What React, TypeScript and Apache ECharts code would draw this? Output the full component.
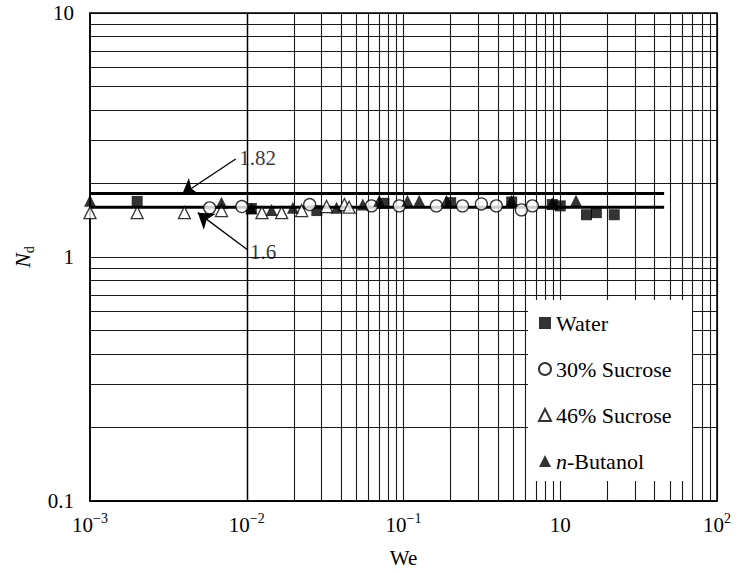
import React, { useEffect, useRef } from "react";
import * as echarts from "echarts";

// ---- data (We, Nd) ----
const WATER: [number, number][] = [
  [0.002, 1.69], [0.0107, 1.58], [0.028, 1.55], [0.075, 1.66], [0.2, 1.67],
  [0.49, 1.68], [0.89, 1.64], [1.0, 1.62], [1.47, 1.49], [1.7, 1.52], [2.21, 1.49],
];
const SUCROSE30: [number, number][] = [
  [0.0058, 1.59], [0.0093, 1.61], [0.0252, 1.64], [0.0625, 1.62], [0.094, 1.62],
  [0.162, 1.62], [0.238, 1.62], [0.314, 1.65], [0.391, 1.62], [0.565, 1.56], [0.664, 1.62],
];
const SUCROSE46: [number, number][] = [
  [0.001, 1.52], [0.002, 1.52], [0.004, 1.52], [0.0069, 1.55], [0.0125, 1.52],
  [0.0167, 1.52], [0.0224, 1.55], [0.0323, 1.61], [0.042, 1.64], [0.045, 1.6],
];
const BUTANOL: [number, number][] = [
  [0.001, 1.7], [0.0069, 1.67], [0.0107, 1.58], [0.0144, 1.56], [0.0197, 1.59],
  [0.0374, 1.59], [0.055, 1.64], [0.07, 1.7], [0.106, 1.7], [0.126, 1.7],
  [0.188, 1.7], [0.488, 1.7], [0.889, 1.66], [1.26, 1.7],
];
const FIT_VALUES = [1.82, 1.6];
const FIT_X_RANGE = [0.001, 4.6];
const SERIES_NAMES = ["Water", "30% Sucrose", "46% Sucrose", "n-Butanol"];
// x tick labels as printed on the figure, one per decade
const X_TICK_LABELS = ["{b|10}{s|−3}", "{b|10}{s|−2}", "{b|10}{s|−1}", "{b|10}", "{b|10}{s|2}"];
const Y_TICK_LABELS = ["0.1", "1", "10"];
// annotations: [textX, textY, tipX, tipY, startX, startY, label]
const ANNOTATIONS: [number, number, number, number, number, number, string][] = [
  [0.0089, 2.55, 0.00386, 1.8, 0.0085, 2.52, "1.82"],
  [0.0104, 1.05, 0.00487, 1.52, 0.0101, 1.07, "1.6"],
];

const FONT = "'Liberation Serif', 'DejaVu Serif', serif";

function gridValues(fromExp: number, toExp: number): number[] {
  const out: number[] = [];
  for (let e = fromExp; e < toExp; e++) {
    for (let k = 1; k <= 9; k++) out.push(k * Math.pow(10, e));
  }
  out.push(Math.pow(10, toExp));
  return out;
}

export default function App() {
  const ref = useRef<HTMLDivElement>(null);
  useEffect(() => {
    if (!ref.current) return;
    const chart = echarts.init(ref.current, null, { renderer: "svg" });
    const xGrid = gridValues(-3, 1);
    const yGrid = gridValues(-1, 1);
    const richLabel = {
      b: { fontSize: 21, fontFamily: FONT, color: "#000", lineHeight: 28 },
      s: { fontSize: 14, fontFamily: FONT, color: "#000", verticalAlign: "top", lineHeight: 28 },
    };
    const option: any = {
      animation: false,
      backgroundColor: "#fff",
      grid: { left: 90, right: 23, top: 13, bottom: 66, show: true, borderColor: "#000", borderWidth: 1.5 },
      xAxis: {
        type: "log",
        logBase: 10,
        min: 0.001,
        max: 10,
        name: "We",
        nameLocation: "middle",
        nameGap: 46,
        nameTextStyle: { fontSize: 21, fontFamily: FONT, color: "#000" },
        axisLine: { show: true, lineStyle: { color: "#000", width: 1.5 } },
        axisTick: { show: false },
        splitLine: { show: false },
        axisLabel: {
          margin: 10,
          formatter: (v: number) => X_TICK_LABELS[Math.round(Math.log10(v)) + 3] ?? "",
          rich: richLabel,
        },
      },
      yAxis: {
        type: "log",
        logBase: 10,
        min: 0.1,
        max: 10,
        name: "{i|N}{d|d}",
        nameLocation: "middle",
        nameRotate: 90,
        nameGap: 50,
        nameTextStyle: {
          rich: {
            i: { fontSize: 22, fontFamily: FONT, fontStyle: "italic", color: "#000", lineHeight: 28 },
            d: { fontSize: 14, fontFamily: FONT, color: "#000", verticalAlign: "bottom", lineHeight: 28 },
          },
        },
        axisLine: { show: true, lineStyle: { color: "#000", width: 1.5 } },
        axisTick: { show: false },
        splitLine: { show: false },
        axisLabel: {
          margin: 16,
          fontSize: 21,
          fontFamily: FONT,
          color: "#000",
          formatter: (v: number) => Y_TICK_LABELS[Math.round(Math.log10(v)) + 1] ?? "",
        },
      },
      legend: {
        data: SERIES_NAMES,
        orient: "vertical",
        left: 538,
        top: 312,
        padding: 0,
        itemWidth: 12,
        itemHeight: 12,
        itemGap: 24,
        z: 20,
        formatter: (name: string) => (name === "n-Butanol" ? "{it|n}-Butanol" : name),
        textStyle: {
          fontSize: 22,
          fontFamily: FONT,
          color: "#000",
          lineHeight: 22,
          rich: { it: { fontSize: 22, fontFamily: FONT, fontStyle: "italic", color: "#000", lineHeight: 22 } },
        },
      },
      graphic: [
        { type: "rect", z: 8, silent: true, shape: { x: 528, y: 300, width: 164, height: 181 }, style: { fill: "#fff" } },
      ],
      series: [
        {
          name: "grid",
          type: "line",
          data: [],
          z: 1,
          silent: true,
          markLine: {
            z: 1,
            silent: true,
            symbol: "none",
            label: { show: false },
            lineStyle: { color: "#000", width: 1.1, type: "solid", opacity: 0.9 },
            emphasis: { disabled: true },
            data: [
              ...xGrid.map((v) => ({ xAxis: v })),
              ...yGrid.map((v) => ({ yAxis: v })),
            ],
          },
        },
        ...FIT_VALUES.map((fv) => ({
          name: "fit" + fv,
          type: "line",
          z: 9,
          silent: true,
          symbol: "none",
          lineStyle: { color: "#000", width: 3 },
          data: FIT_X_RANGE.map((x) => [x, fv]),
        })),
        {
          name: "Water",
          type: "scatter",
          z: 10,
          symbol: "rect",
          symbolSize: 11,
          itemStyle: { color: "#000" },
          data: WATER,
        },
        {
          name: "30% Sucrose",
          type: "scatter",
          z: 10,
          symbol: "circle",
          symbolSize: 12,
          itemStyle: { color: "#fff", borderColor: "#000", borderWidth: 1.3 },
          data: SUCROSE30,
        },
        {
          name: "46% Sucrose",
          type: "scatter",
          z: 10,
          symbol: "triangle",
          symbolSize: 12,
          itemStyle: { color: "#fff", borderColor: "#000", borderWidth: 1.3 },
          data: SUCROSE46,
        },
        {
          name: "n-Butanol",
          type: "scatter",
          z: 10,
          symbol: "triangle",
          symbolSize: 12,
          itemStyle: { color: "#000" },
          data: BUTANOL,
        },
        {
          name: "annotations",
          type: "scatter",
          z: 11,
          silent: true,
          symbolSize: 1,
          itemStyle: { color: "rgba(0,0,0,0)" },
          label: {
            show: true,
            position: "right",
            distance: 0,
            fontSize: 21,
            fontFamily: FONT,
            color: "#000",
            formatter: (p: any) => p.data[2],
          },
          data: ANNOTATIONS.map((a) => [a[0], a[1], a[6]]),
          markLine: {
            z: 11,
            silent: true,
            symbol: "arrow",
            symbolSize: 15,
            label: { show: false },
            lineStyle: { color: "#000", width: 1.3, type: "solid", opacity: 1 },
            itemStyle: { color: "#000", opacity: 1 },
            data: ANNOTATIONS.map((a) => [
              { coord: [a[4], a[5]], symbol: "none" },
              { coord: [a[2], a[3]], symbol: "arrow", symbolSize: 15 },
            ]),
          },
        },
      ],
    };
    chart.setOption(option);
    return () => chart.dispose();
  }, []);
  return <div ref={ref} style={{ position: "fixed", left: 0, top: 0, width: 740, height: 573 }} />;
}
